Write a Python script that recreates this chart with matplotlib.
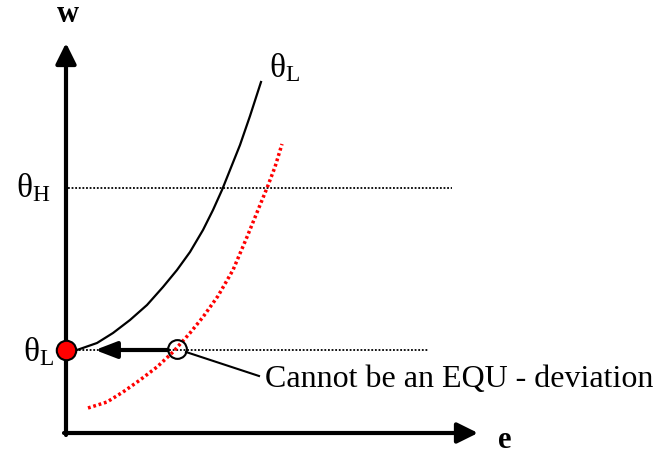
import matplotlib.pyplot as plt

plt.rcParams['font.family'] = ['Liberation Serif', 'DejaVu Serif']

# data space: e (x) and w (y), origin at the axes corner
theta_H = 245
theta_L = 83

black_e = [11, 31, 47, 64, 81, 97, 111, 124, 137, 147, 156, 164, 174, 184, 195]
black_w = [83, 90, 100, 113, 128, 146, 163, 181, 203, 223, 243, 263, 288, 317, 351]

red_e = [22, 41, 57, 74, 91, 107, 124, 137, 152, 167, 181, 192, 201, 209, 216]
red_w = [25, 31, 41, 53, 66, 81, 100, 116, 137, 163, 196, 223, 245, 266, 289]

dev_e = 111
label = 'Cannot be an EQU - deviation'

fig = plt.figure(figsize=(6.68, 4.55), dpi=100)
ax = fig.add_axes([0, 0, 1, 1])
ax.set_xlim(-66, 602)
ax.set_ylim(-22, 433)
ax.axis('off')

axis_arrow = dict(arrowstyle='-|>,head_length=1.25,head_width=0.62',
                  lw=3, color='black', shrinkA=0, shrinkB=0)
ax.annotate('', xy=(0, 390), xytext=(0, -2), arrowprops=axis_arrow)
ax.annotate('', xy=(412, 0), xytext=(-2, 0), arrowprops=axis_arrow)
ax.text(2, 418, 'w', fontsize=22, fontweight='bold', ha='center', va='center')
ax.text(439, -7, 'e', fontsize=22, fontweight='bold', ha='center', va='center')

# horizontal reference lines
ax.plot([2, 386], [theta_H, theta_H], color='black', lw=1.3, ls=(0, (1, 1)))
ax.plot([2, 362], [theta_L, theta_L], color='black', lw=1.3, ls=(0, (1, 1)))

# curves
ax.plot(black_e, black_w, color='black', lw=1.6)
ax.plot(red_e, red_w, color='red', lw=2.5, ls=(0, (0.8, 0.8)))

# deviation arrow
ax.annotate('', xy=(29, theta_L), xytext=(dev_e - 9, theta_L),
            arrowprops=dict(arrowstyle='-|>,head_length=1.3,head_width=0.5',
                            lw=3, color='black', shrinkA=0, shrinkB=0))

# points
ax.plot([0], [theta_L], 'o', ms=14, mfc='red', mec='black', mew=1.5, zorder=5)
ax.plot([dev_e], [theta_L + 1], 'o', ms=13.5, mfc='none', mec='black', mew=1.5, zorder=5)

ax.plot([120, 193], [81, 57], color='black', lw=1.5)
ax.text(199, 53, label, fontsize=23, va='center', ha='left')

# labels
ax.text(-33, theta_H, r'$\mathregular{\theta_H}$', fontsize=24, ha='center', va='center')
ax.text(-27, theta_L - 2, r'$\mathregular{\theta_L}$', fontsize=24, ha='center', va='center')
ax.text(219, 365, r'$\mathregular{\theta_L}$', fontsize=24, ha='center', va='center')

fig.savefig('out.png', dpi=100)
